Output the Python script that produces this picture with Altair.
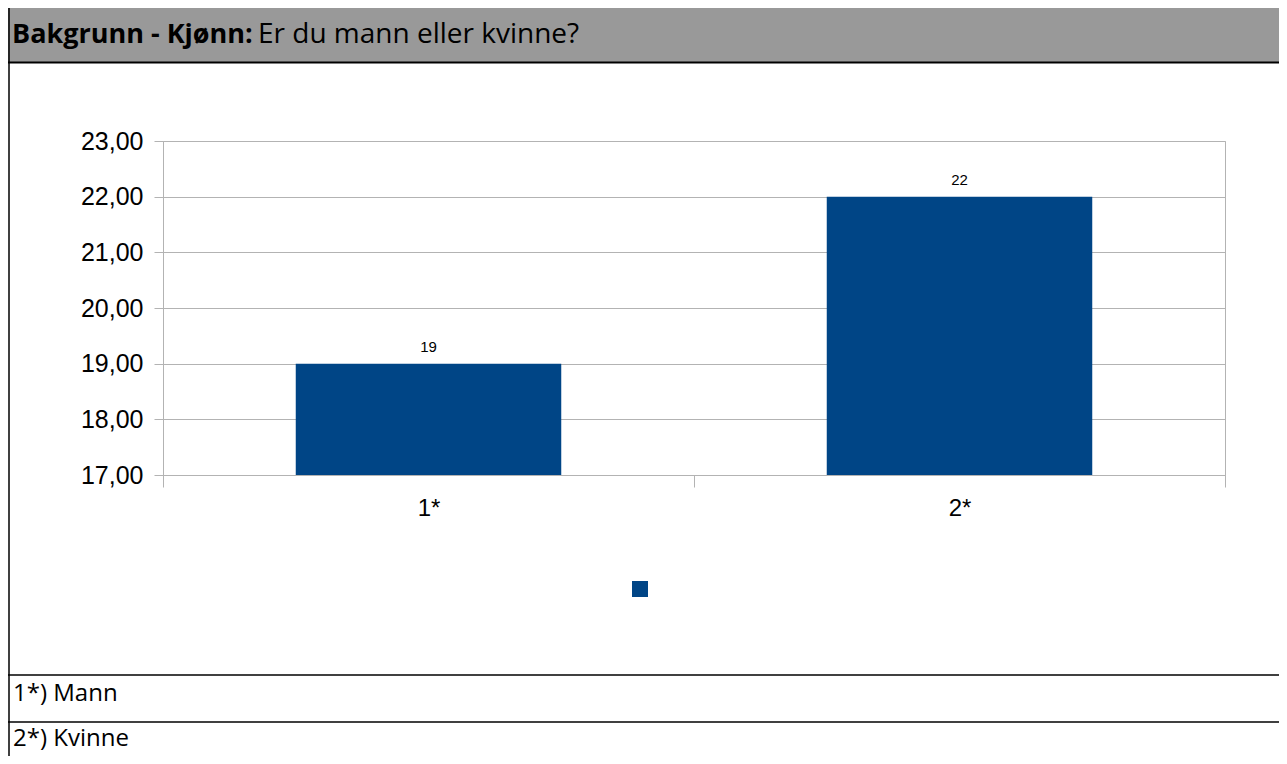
import altair as alt
import pandas as pd

# ---- data ----
categories = ["1*", "2*"]
values = [19, 22]
series_name = [" ", " "]
header_bold = ["Bakgrunn - Kjønn:"]
header_rest = ["Er du mann eller kvinne?"]
footnotes = ["1*) Mann", "2*) Kvinne"]
y_ticks = [17, 18, 19, 20, 21, 22, 23]

BAR = "#004586"
GRID = "#b3b3b3"
W, H = 1062, 334
PAD = {"left": 155, "top": 133, "right": 54, "bottom": 281}
LEFT = -PAD["left"]
RIGHT = W + PAD["right"]
TOP = -PAD["top"]
BOTTOM = H + PAD["bottom"]

df = pd.DataFrame({"cat": categories, "value": values, "serie": series_name})
one = pd.DataFrame({"k": [0]})

x = alt.X("cat:N", sort=categories,
          scale=alt.Scale(paddingInner=0, paddingOuter=0),
          axis=alt.Axis(title=None, labelAngle=0, labelFont="Liberation Sans",
                        labelFontSize=24, labelColor="black", labelPadding=9,
                        tickSize=12, tickColor=GRID, domainColor=GRID,
                        tickBand="extent", grid=False))
y = alt.Y("value:Q", scale=alt.Scale(domain=[17, 23], zero=False, nice=False),
          axis=alt.Axis(title=None, values=y_ticks,
                        labelExpr="replace(format(datum.value, '.2f'), '.', ',')",
                        labelFont="Liberation Sans", labelFontSize=25,
                        labelColor="black", labelPadding=11, tickSize=9,
                        tickColor=GRID, domainColor=GRID, gridColor=GRID))

bars = alt.Chart(df).mark_bar(color=BAR, width={"band": 0.5}).encode(
    x=x, y=y, y2=alt.datum(17),
    color=alt.Color("serie:N", scale=alt.Scale(range=[BAR]),
                    legend=alt.Legend(orient="none", legendX=469, legendY=440,
                                      title=None, labelExpr="''", padding=0,
                                      symbolType="square", symbolSize=256,
                                      symbolStrokeWidth=0, symbolOpacity=1,
                                      labelFontSize=1)))

labels = alt.Chart(df).mark_text(dy=-12, fontSize=15, font="Liberation Sans",
                                 color="black", baseline="alphabetic").encode(
    x=alt.X("cat:N", sort=categories), y="value:Q", text="value:Q")

header_bg = alt.Chart(one).mark_rect(color="#999999").encode(
    x=alt.value(LEFT), x2=alt.value(RIGHT), y=alt.value(TOP), y2=alt.value(-79))
header_line = alt.Chart(one).mark_rule(color="black", strokeWidth=2).encode(
    x=alt.value(LEFT), x2=alt.value(RIGHT), y=alt.value(-78.5))
left_line = alt.Chart(one).mark_rule(color="black", strokeWidth=1.5).encode(
    x=alt.value(LEFT + 1), y=alt.value(TOP), y2=alt.value(BOTTOM))
foot_lines = alt.Chart(pd.DataFrame({"yy": [534, 581]})).mark_rule(
    color="black", strokeWidth=1.5).encode(
    x=alt.value(LEFT), x2=alt.value(RIGHT),
    y=alt.Y("yy:Q", scale=None))

hb = alt.Chart(pd.DataFrame({"t": header_bold})).mark_text(
    font="Open Sans", fontSize=27, fontWeight="bold", align="left",
    baseline="alphabetic", color="black").encode(
    x=alt.value(-151), y=alt.value(-98), text="t:N")
hr = alt.Chart(pd.DataFrame({"t": header_rest})).mark_text(
    font="Open Sans", fontSize=28, align="left", baseline="alphabetic",
    color="black").encode(
    x=alt.value(95), y=alt.value(-98), text="t:N")
fn = alt.Chart(pd.DataFrame({"t": footnotes, "yy": [560, 605]})).mark_text(
    font="Open Sans", fontSize=24, align="left", baseline="alphabetic",
    color="black").encode(
    x=alt.value(-150), y=alt.Y("yy:Q", scale=None), text="t:N")

chart = alt.layer(header_bg, header_line, left_line, foot_lines, hb, hr, fn,
                  bars, labels).properties(
    width=W, height=H, padding=PAD,
    autosize=alt.AutoSizeParams(type="none"),
    background="white",
).configure_view(stroke=GRID).configure_axis(labelFont="Liberation Sans")

chart.save("out.html", embed_options={"renderer": "svg", "actions": False})
